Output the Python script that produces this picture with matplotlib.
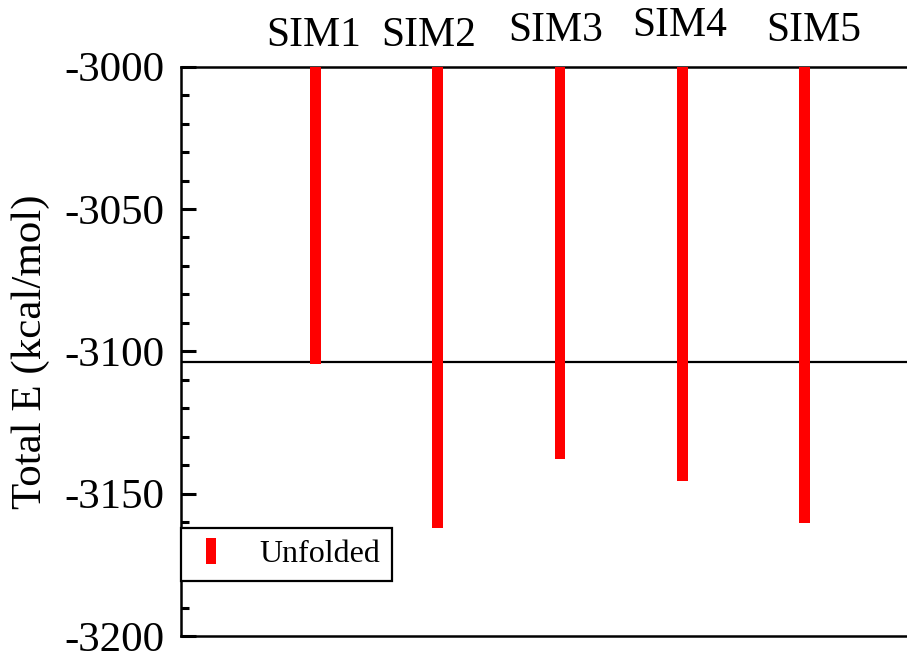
import matplotlib
matplotlib.use("Agg")
import matplotlib.pyplot as plt
from matplotlib.lines import Line2D
import numpy as np

# Data
sims = ["SIM1", "SIM2", "SIM3", "SIM4", "SIM5"]
x_pos = [1, 2, 3, 4, 5]
energies = [-3104.5, -3162.0, -3137.9, -3145.4, -3160.3]
baseline = -3000
ref_line = -3103.6
yticks = [-3200, -3150, -3100, -3050, -3000]
legend_label = "Unfolded"

plt.rcParams['font.family'] = ['Liberation Serif', 'DejaVu Serif']

fig = plt.figure(figsize=(9.07, 6.54), dpi=100)
ax = fig.add_axes([181/907, 1 - 636/654, 1 - 181/907, (636 - 66.7)/654])

heights = [e - baseline for e in energies]
ax.bar(x_pos, heights, bottom=baseline, width=0.087, color='#ff0000', zorder=3)
ax.axhline(ref_line, color='black', lw=1.6, zorder=2)

ax.set_xlim(-0.098, 5.838)
ax.set_ylim(-3200, -3000)
ax.set_xticks([])
ax.set_yticks(yticks)
ax.set_yticklabels([str(t) for t in yticks])
ax.yaxis.set_minor_locator(matplotlib.ticker.MultipleLocator(10))
ax.tick_params(axis='y', which='major', direction='in', length=11, width=2.2,
               labelsize=31, pad=12)
ax.tick_params(axis='y', which='minor', direction='in', length=6, width=2.2)
ax.spines['right'].set_visible(False)
for s in ['left', 'top', 'bottom']:
    ax.spines[s].set_linewidth(1.8)
ax.set_ylabel("Total E (kcal/mol)", fontsize=31, labelpad=10)

# SIM labels above the plot
label_x_px = [314, 429, 556, 680, 814]
label_y_px = [36, 36, 31, 26, 31]
for name, lx, ly in zip(sims, label_x_px, label_y_px):
    fig.text(lx / 907, 1 - ly / 654, name, fontsize=30, ha='center', va='center')

# Legend with a thin vertical red bar as handle
verts = [(-0.2, -0.5), (0.2, -0.5), (0.2, 0.5), (-0.2, 0.5), (-0.2, -0.5)]
handle = Line2D([], [], linestyle='none', marker=verts, markersize=18.5,
                markerfacecolor='#ff0000', markeredgecolor='#ff0000', markeredgewidth=0)
leg = ax.legend([handle], [legend_label], loc='lower left',
                bbox_to_anchor=(0.0, (636 - 580.5) / 569.3), borderaxespad=0,
                fontsize=23, frameon=True, fancybox=False, handlelength=1.15,
                handletextpad=0.94, borderpad=0.36)
leg.get_frame().set_edgecolor('black')
leg.get_frame().set_linewidth(1.6)
leg.get_frame().set_alpha(1)

fig.savefig("out.png", dpi=100)
